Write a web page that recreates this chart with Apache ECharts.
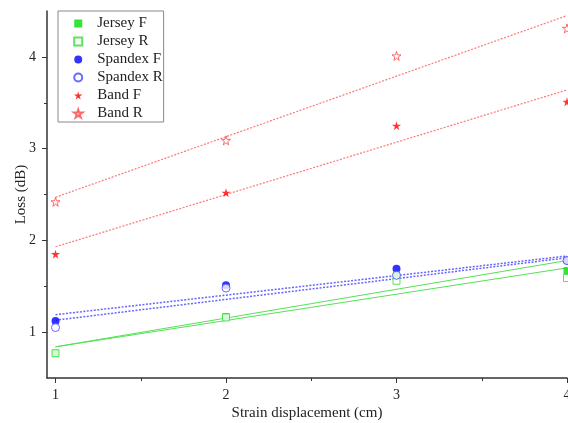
<!DOCTYPE html>
<html>
<head>
<meta charset="utf-8">
<script src="https://cdn.jsdelivr.net/npm/echarts@6/dist/echarts.min.js"></script>
<style>
html,body{margin:0;padding:0;background:#fff;}
#chart{width:568px;height:423px;}
</style>
</head>
<body>
<div id="chart"></div>
<script>
// points
var xValues = [1, 2, 3, 4];
var jerseyF = [0.77, 1.17, 1.61, 1.67];
var jerseyR = [0.77, 1.16, 1.56, 1.59];
var spandexF = [1.12, 1.51, 1.69, 1.78];
var spandexR = [1.05, 1.48, 1.62, 1.78];
var bandF = [1.85, 2.52, 3.25, 3.51];
var bandR = [2.42, 3.09, 4.01, 4.31];
// fitted lines, end values read at x = 1 and x = 4
var fitX = [1, 4];
var jerseyFFit = [0.84, 1.78];
var jerseyRFit = [0.84, 1.70];
var spandexFFit = [1.19, 1.83];
var spandexRFit = [1.13, 1.81];
var bandFFit = [1.93, 3.64];
var bandRFit = [2.47, 4.45];
var xMajor = [1, 2, 3, 4];
var xMinor = [1.5, 2.5, 3.5];
var yMajor = [1, 2, 3, 4];
var yMinor = [1.5, 2.5, 3.5];

var star = 'path://M50,0 L61,35 L98,35 L68,57 L79,91 L50,70 L21,91 L32,57 L2,35 L39,35 Z';
var square = 'path://M0,0 L10,0 L10,10 L0,10 Z';
var font = 'Liberation Serif';

function pairs(xs, ys) {
    return xs.map(function (x, i) { return [x, ys[i]]; });
}

function points(name, ys, symbol, size, color, hollow, z) {
    return {
        name: name,
        type: 'scatter',
        data: pairs(xValues, ys),
        symbol: symbol,
        symbolSize: size,
        itemStyle: hollow
            ? { color: '#fff', borderColor: color, borderWidth: 1 }
            : { color: color },
        z: z
    };
}

function fit(ys, color, type, width) {
    return {
        type: 'line',
        data: pairs(fitX, ys),
        showSymbol: false,
        silent: true,
        lineStyle: { color: color, type: type, width: width },
        z: 2
    };
}

var chart = echarts.init(document.getElementById('chart'));
chart.setOption({
    animation: false,
    textStyle: { fontFamily: font },
    grid: { left: 47, right: 1, top: 11, bottom: 45, outerBoundsMode: 'none', containLabel: false },
    legend: {
        orient: 'vertical',
        left: 58,
        top: 11,
        padding: [5, 1, 1, 15],
        itemWidth: 28,
        itemHeight: 8,
        itemGap: 3,
        borderColor: '#888',
        borderWidth: 1,
        textStyle: { fontFamily: font, fontSize: 15, color: '#222' },
        data: ['Jersey F', 'Jersey R', 'Spandex F', 'Spandex R', 'Band F', 'Band R']
    },
    xAxis: [{
        type: 'value',
        min: 0.95,
        max: 4,
        name: 'Strain displacement (cm)',
        nameLocation: 'middle',
        nameGap: 28,
        nameMoveOverlap: false,
        nameTextStyle: { fontFamily: font, fontSize: 15, color: '#222' },
        axisLine: { lineStyle: { color: '#333', width: 1.5 } },
        axisTick: { customValues: xMajor, length: 5, lineStyle: { color: '#333' } },
        axisLabel: { customValues: xMajor, margin: 10, fontFamily: font, fontSize: 14, color: '#222' },
        splitLine: { show: false }
    }, {
        type: 'value',
        min: 0.95,
        max: 4,
        position: 'bottom',
        axisLine: { show: false },
        axisTick: { customValues: xMinor, length: 3, lineStyle: { color: '#333' } },
        axisLabel: { show: false },
        splitLine: { show: false }
    }],
    yAxis: [{
        type: 'value',
        min: 0.5,
        max: 4.5,
        name: 'Loss (dB)',
        nameLocation: 'middle',
        nameGap: 18,
        nameMoveOverlap: false,
        nameTextStyle: { fontFamily: font, fontSize: 15, color: '#222' },
        axisLine: { show: true, lineStyle: { color: '#333', width: 1.5 } },
        axisTick: { show: true, customValues: yMajor, length: 5, lineStyle: { color: '#333' } },
        axisLabel: { customValues: yMajor, margin: 11, fontFamily: font, fontSize: 14, color: '#222' },
        splitLine: { show: false }
    }, {
        type: 'value',
        min: 0.5,
        max: 4.5,
        position: 'left',
        axisLine: { show: false },
        axisTick: { show: true, customValues: yMinor, length: 3, lineStyle: { color: '#333' } },
        axisLabel: { show: false },
        splitLine: { show: false }
    }],
    series: [
        fit(jerseyFFit, '#55e055', 'solid', 1),
        fit(jerseyRFit, '#55e055', 'solid', 1),
        fit(spandexFFit, '#6666ff', [2, 1.5], 1.5),
        fit(spandexRFit, '#6666ff', [2, 1.5], 1.5),
        fit(bandFFit, '#ff7777', [2, 1.5], 1.2),
        fit(bandRFit, '#ff7777', [2, 1.5], 1.2),
        points('Jersey F', jerseyF, square, 7, '#00e000', false, 5),
        points('Jersey R', jerseyR, square, 7, '#33dd33', true, 6),
        points('Spandex F', spandexF, 'circle', 8, '#0000ff', false, 7),
        points('Spandex R', spandexR, 'circle', 8, '#4444ff', true, 8),
        points('Band F', bandF, star, 9, '#ff0000', false, 9),
        points('Band R', bandR, star, 9, '#ff4444', true, 10)
    ]
});
</script>
</body>
</html>
